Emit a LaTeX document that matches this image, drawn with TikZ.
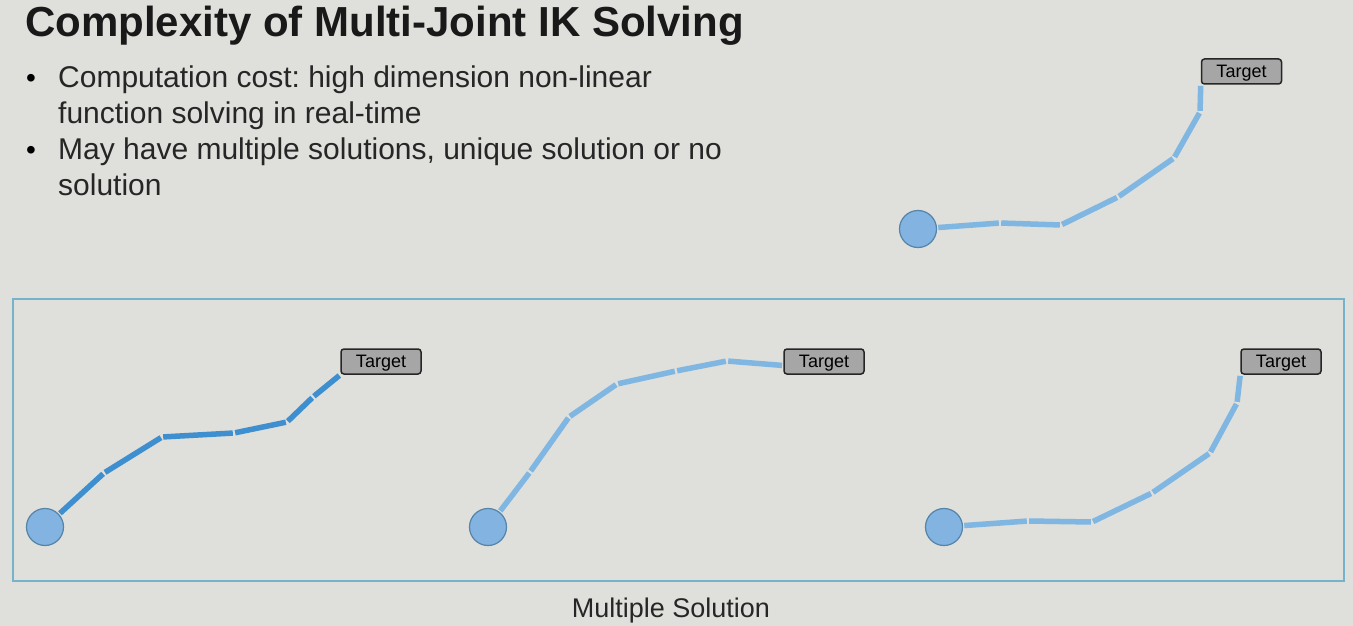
\documentclass[tikz,border=0pt]{standalone}
\usepackage{fontspec}
\setmainfont{Liberation Sans}
\usepackage{tikz}
\frenchspacing
\definecolor{slidebg}{RGB}{223,223,219}
\definecolor{chainlight}{RGB}{127,182,226}
\definecolor{chaindark}{RGB}{62,143,208}
\definecolor{rootfill}{RGB}{131,179,225}
\definecolor{rootline}{RGB}{84,132,168}
\definecolor{framecol}{RGB}{118,178,202}
\tikzstyle{joint}=[coordinate]
\tikzstyle{root}=[circle, fill=rootfill, draw=rootline, line width=1.2pt, minimum size=37pt, inner sep=0pt]
\tikzstyle{target}=[rectangle, rounded corners=3pt, fill=black!35, draw=black!85, line width=1.5pt, minimum width=80pt, minimum height=25pt, inner sep=0pt, text depth=0pt, font=\fontsize{18}{21}\selectfont]
\tikzstyle{seg}=[draw=chainlight, line width=5.5pt, shorten <=1.2pt, shorten >=1.2pt]
\tikzstyle{segdark}=[seg, draw=chaindark]
\tikzstyle{body}=[anchor=base west, inner sep=0pt, font=\fontsize{30}{36}\selectfont, text=black!85]

\begin{document}
\begin{tikzpicture}[x=1pt, y=-1pt]
		   \fill[slidebg] (0,0) rectangle (1353,626);
		   \useasboundingbox (0,0) rectangle (1353,626);
		   % title and bullets
		   \node (title) at (25,37)[anchor=base west, inner sep=0pt, font=\bfseries\fontsize{42}{50}\selectfont, text=black!90] {Complexity of Multi-Joint IK Solving};
		   \node (b1) at (31,88)[anchor=base, inner sep=0pt, font=\fontsize{28}{34}\selectfont] {\textbullet};
		   \node (l1) at (58,88)[body] {Computation cost: high dimension non-linear};
		   \node (l2) at (58,123)[body] {function solving in real-time};
		   \node (b2) at (31,159)[anchor=base, inner sep=0pt, font=\fontsize{28}{34}\selectfont] {\textbullet};
		   \node (l3) at (58,159)[body] {May have multiple solutions, unique solution or no};
		   \node (l4) at (58,195)[body] {solution};
		   % single chain, top right
		   \begin{scope}
			   \node (t0) at (1241.5,71.5)[target] {Target};
			   \node (r0) at (918,229)[root] {};
			   \node (r1) at (1000,223)[joint] {};
			   \node (r2) at (1061,225)[joint] {};
			   \node (r3) at (1118,197)[joint] {};
			   \node (r4) at (1174,158)[joint] {};
			   \node (r5) at (1200,112)[joint] {};
		   \end{scope}
		   \begin{scope}
			   \path [seg] (r0) edge (r1);
			   \path [seg] (r1) edge (r2);
			   \path [seg] (r2) edge (r3);
			   \path [seg] (r3) edge (r4);
			   \path [seg] (r4) edge (r5);
			   \path [seg] (r5) edge (t0.south west);
		   \end{scope}
		   % multiple solution frame
		   \node (frame) at (12,298)[anchor=north west, draw=framecol, line width=1.8pt, minimum width=1331pt, minimum height=282pt, inner sep=0pt] {};
		   \node (caption) at (671,617)[anchor=base, inner sep=0pt, font=\fontsize{27}{32}\selectfont, text=black!85] {Multiple Solution};
		   % solution 1
		   \begin{scope}
			   \node (ta) at (381,361.5)[target] {Target};
			   \node (a0) at (45,527)[root] {};
			   \node (a1) at (104,473)[joint] {};
			   \node (a2) at (162,437)[joint] {};
			   \node (a3) at (234,433)[joint] {};
			   \node (a4) at (287,422)[joint] {};
			   \node (a5) at (313,397)[joint] {};
		   \end{scope}
		   \begin{scope}
			   \path [segdark] (a0) edge (a1);
			   \path [segdark] (a1) edge (a2);
			   \path [segdark] (a2) edge (a3);
			   \path [segdark] (a3) edge (a4);
			   \path [segdark] (a4) edge (a5);
			   \path [segdark] (a5) edge (ta.south west);
		   \end{scope}
		   % solution 2
		   \begin{scope}
			   \node (tb) at (824,361.5)[target] {Target};
			   \node (b0) at (488,527)[root] {};
			   \node (b1) at (530,472)[joint] {};
			   \node (b2) at (569,417)[joint] {};
			   \node (b3) at (617,384)[joint] {};
			   \node (b4) at (676,371)[joint] {};
			   \node (b5) at (727,361)[joint] {};
		   \end{scope}
		   \begin{scope}
			   \path [seg] (b0) edge (b1);
			   \path [seg] (b1) edge (b2);
			   \path [seg] (b2) edge (b3);
			   \path [seg] (b3) edge (b4);
			   \path [seg] (b4) edge (b5);
			   \path [seg] (b5) edge ([yshift=-4pt]tb.west);
		   \end{scope}
		   % solution 3
		   \begin{scope}
			   \node (tc) at (1281,361.5)[target] {Target};
			   \node (c0) at (944,527)[root] {};
			   \node (c1) at (1028,521)[joint] {};
			   \node (c2) at (1092,522)[joint] {};
			   \node (c3) at (1152,493)[joint] {};
			   \node (c4) at (1210,453)[joint] {};
			   \node (c5) at (1237,403)[joint] {};
		   \end{scope}
		   \begin{scope}
			   \path [seg] (c0) edge (c1);
			   \path [seg] (c1) edge (c2);
			   \path [seg] (c2) edge (c3);
			   \path [seg] (c3) edge (c4);
			   \path [seg] (c4) edge (c5);
			   \path [seg] (c5) edge (tc.south west);
		   \end{scope}
	   \end{tikzpicture}
\end{document}
